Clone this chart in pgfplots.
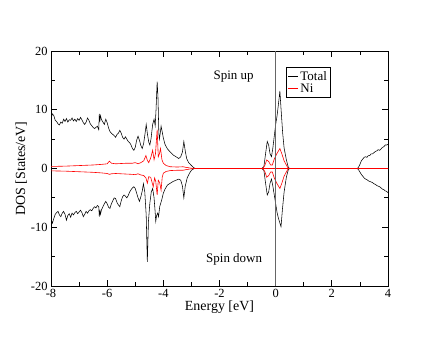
\documentclass[border=0pt]{standalone}
\usepackage{fontspec}
\setmainfont{Liberation Serif}
\usepackage{pgfplots}
\pgfplotsset{compat=1.18}

\pgfplotstableread{
x y
-8.00 8.6
-7.95 9.3
-7.90 9.0
-7.85 8.2
-7.80 8.0
-7.75 7.6
-7.70 7.4
-7.65 7.9
-7.60 7.7
-7.55 8.4
-7.50 8.0
-7.45 8.5
-7.40 7.9
-7.35 8.3
-7.30 8.2
-7.25 8.6
-7.20 8.1
-7.15 8.4
-7.10 8.0
-7.05 8.5
-7.00 8.2
-6.95 8.7
-6.90 8.3
-6.85 7.8
-6.80 7.5
-6.75 7.9
-6.70 8.6
-6.65 8.2
-6.60 7.6
-6.55 7.3
-6.50 7.0
-6.45 6.8
-6.40 7.0
-6.35 7.2
-6.30 6.6
-6.28 9.3
-6.26 8.0
-6.24 9.0
-6.20 8.3
-6.15 7.9
-6.10 7.5
-6.05 8.4
-6.00 7.8
-5.95 6.9
-5.90 6.3
-5.85 6.0
-5.80 5.8
-5.75 5.6
-5.70 5.3
-5.65 5.8
-5.60 6.0
-5.55 6.5
-5.50 6.0
-5.45 5.3
-5.40 5.0
-5.35 5.4
-5.30 5.0
-5.25 4.6
-5.20 4.4
-5.15 4.0
-5.10 3.4
-5.05 3.1
-5.00 3.6
-4.95 4.8
-4.90 5.5
-4.85 4.8
-4.80 3.9
-4.75 3.4
-4.70 4.3
-4.65 6.0
-4.61 7.5
-4.57 6.0
-4.52 4.5
-4.48 4.0
-4.44 5.0
-4.38 7.5
-4.33 8.4
-4.29 7.3
-4.26 10.0
-4.22 14.8
-4.19 12.0
-4.16 6.0
-4.14 5.0
-4.11 6.0
-4.08 7.2
-4.05 6.5
-4.00 5.2
-3.94 4.1
-3.85 3.3
-3.75 2.8
-3.65 2.3
-3.55 2.0
-3.45 1.7
-3.38 2.0
-3.32 2.8
-3.27 4.6
-3.22 3.0
-3.17 1.7
-3.10 1.0
-3.00 0.5
-2.93 0.2
-2.87 0.0
-0.50 0.0
-0.42 0.3
-0.36 2.5
-0.30 4.6
-0.25 4.0
-0.20 2.5
-0.15 2.0
-0.10 3.5
-0.05 5.5
0.00 7.5
0.05 9.0
0.10 11.0
0.15 13.2
0.20 9.5
0.25 6.0
0.30 3.5
0.38 1.5
0.45 0.2
0.50 0.0
2.90 0.0
2.95 0.2
3.00 0.7
3.05 1.3
3.10 1.6
3.15 1.9
3.20 2.0
3.25 1.9
3.30 2.2
3.35 2.2
3.40 2.5
3.45 2.5
3.50 2.7
3.55 2.9
3.60 3.0
3.65 3.2
3.70 3.1
3.75 3.3
3.80 3.6
3.85 3.7
3.90 4.0
3.95 4.0
4.00 4.1
}\totup

\pgfplotstableread{
x y
-8.00 -8.6
-7.95 -9.3
-7.90 -8.5
-7.85 -7.8
-7.80 -7.5
-7.75 -7.3
-7.70 -7.9
-7.65 -8.2
-7.60 -7.6
-7.55 -7.3
-7.50 -7.8
-7.45 -8.8
-7.40 -8.0
-7.35 -7.7
-7.30 -8.3
-7.25 -7.6
-7.20 -7.9
-7.15 -7.5
-7.10 -7.3
-7.05 -7.7
-7.00 -7.4
-6.95 -7.1
-6.90 -7.5
-6.85 -8.2
-6.80 -7.8
-6.75 -7.3
-6.70 -7.6
-6.65 -7.2
-6.60 -7.0
-6.55 -7.2
-6.50 -6.8
-6.45 -6.5
-6.40 -6.7
-6.35 -6.3
-6.30 -6.5
-6.28 -8.2
-6.26 -7.0
-6.24 -7.8
-6.20 -7.0
-6.15 -6.5
-6.10 -6.0
-6.05 -5.6
-6.00 -6.0
-5.95 -6.6
-5.90 -6.8
-5.85 -6.0
-5.80 -5.5
-5.75 -5.0
-5.70 -5.1
-5.65 -5.8
-5.60 -6.2
-5.55 -6.5
-5.50 -5.5
-5.45 -4.8
-5.40 -4.5
-5.35 -4.7
-5.30 -5.0
-5.25 -4.6
-5.20 -4.0
-5.15 -3.6
-5.10 -3.3
-5.05 -3.1
-5.00 -3.4
-4.95 -4.2
-4.90 -5.0
-4.85 -5.6
-4.80 -4.8
-4.75 -3.8
-4.71 -2.6
-4.66 -4.0
-4.61 -8.0
-4.57 -15.9
-4.53 -9.0
-4.48 -5.9
-4.43 -4.0
-4.38 -3.4
-4.33 -5.0
-4.29 -7.5
-4.27 -9.0
-4.24 -8.0
-4.20 -7.6
-4.17 -8.2
-4.13 -6.5
-4.06 -5.4
-4.00 -4.2
-3.94 -3.5
-3.85 -2.8
-3.75 -2.5
-3.65 -2.2
-3.55 -2.0
-3.45 -1.8
-3.38 -2.0
-3.32 -3.0
-3.27 -5.0
-3.22 -3.0
-3.15 -1.6
-3.07 -0.8
-3.00 -0.3
-2.90 0.0
-0.50 0.0
-0.42 -0.3
-0.36 -2.5
-0.30 -4.5
-0.25 -4.0
-0.20 -2.5
-0.15 -1.8
-0.10 -3.0
-0.05 -4.5
0.00 -6.0
0.05 -7.5
0.10 -8.5
0.19 -9.9
0.24 -7.0
0.30 -4.0
0.38 -1.5
0.45 -0.2
0.50 0.0
2.90 0.0
2.95 -0.2
3.00 -0.6
3.05 -1.0
3.10 -1.3
3.15 -1.6
3.20 -1.8
3.25 -1.9
3.30 -2.1
3.35 -2.2
3.40 -2.3
3.45 -2.4
3.50 -2.6
3.55 -2.7
3.60 -2.9
3.65 -3.0
3.70 -3.1
3.75 -3.3
3.80 -3.5
3.85 -3.6
3.90 -3.8
3.95 -3.9
4.00 -4.1
}\totdn

\pgfplotstableread{
x y
-8.00 0.35
-7.50 0.40
-7.00 0.50
-6.50 0.60
-6.20 0.70
-6.00 0.80
-5.92 1.25
-5.85 0.90
-5.70 0.80
-5.50 0.85
-5.30 0.90
-5.10 0.90
-5.00 1.00
-4.90 0.80
-4.80 1.00
-4.70 1.30
-4.62 2.20
-4.57 1.40
-4.52 1.00
-4.45 1.80
-4.38 3.10
-4.33 1.50
-4.28 2.50
-4.22 6.60
-4.18 2.00
-4.14 2.50
-4.10 3.40
-4.05 1.50
-4.00 0.90
-3.90 0.50
-3.75 0.30
-3.50 0.25
-3.30 0.30
-3.20 0.20
-3.00 0.05
-2.90 0.00
-0.45 0.00
-0.38 0.60
-0.32 1.45
-0.25 1.20
-0.18 0.60
-0.12 0.60
-0.05 1.60
0.05 2.60
0.15 3.40
0.22 2.50
0.30 1.30
0.38 0.60
0.45 0.00
4.00 0.00
}\niup

\pgfplotstableread{
x y
-8.00 -0.40
-7.50 -0.45
-7.00 -0.55
-6.50 -0.65
-6.20 -0.75
-6.00 -0.85
-5.92 -1.00
-5.85 -0.90
-5.70 -0.85
-5.50 -0.90
-5.30 -0.95
-5.10 -1.00
-5.00 -1.05
-4.90 -0.90
-4.80 -1.10
-4.70 -1.20
-4.62 -1.60
-4.57 -2.50
-4.52 -1.40
-4.45 -1.50
-4.36 -3.10
-4.31 -1.60
-4.27 -2.20
-4.22 -4.50
-4.18 -2.00
-4.13 -2.40
-4.08 -3.70
-4.04 -1.50
-4.00 -0.80
-3.90 -0.50
-3.75 -0.35
-3.50 -0.30
-3.30 -0.30
-3.20 -0.20
-3.00 -0.05
-2.90 0.00
-0.45 0.00
-0.38 -0.60
-0.32 -1.50
-0.25 -1.20
-0.18 -0.60
-0.12 -0.60
-0.05 -1.60
0.05 -2.60
0.15 -3.40
0.22 -2.50
0.30 -1.30
0.38 -0.60
0.45 0.00
4.00 0.00
}\nidn

\begin{document}
\begin{tikzpicture}
\path[use as bounding box] (-51bp,-51bp) rectangle (385bp,286bp);
\begin{axis}[
    at={(0,0)}, anchor=south west,
    width=337bp, height=235bp,
    scale only axis,
    xmin=-8, xmax=4,
    ymin=-20, ymax=20,
    xtick={-8,-6,...,4},
    minor xtick={-7,-5,...,3},
    ytick={-20,-10,...,20},
    minor ytick={-15,-5,...,15},
    tick align=inside,
    major tick length=6bp,
    minor tick length=4bp,
    axis line style={line width=0.9bp},
    every tick/.style={black, line width=0.8bp},
    /pgf/number format/assume math mode=true,
    tick label style={font=\fontsize{12.5}{13}\selectfont},
    xlabel={Energy [eV]},
    ylabel={DOS [States/eV]},
    label style={font=\fontsize{14}{15}\selectfont},
    xlabel style={yshift=4bp},
    ylabel style={yshift=-3bp},
    legend style={at={(axis cs:0.37,17.2)}, anchor=north west,
        draw=black, line width=0.6bp, fill=white,
        font=\fontsize{13}{13}\selectfont,
        inner sep=1.5bp, row sep=-2bp},
    legend cell align=left,
    legend image code/.code={\draw[#1, line width=0.6bp] (3bp,0bp) -- (13bp,0bp);},
]
\addplot[black, line width=0.55bp] table {\totup};
\addlegendentry{Total}
\addplot[red, line width=0.6bp] table {\niup};
\addlegendentry{Ni}
\addplot[black, line width=0.55bp, forget plot] table {\totdn};
\addplot[red, line width=0.6bp, forget plot] table {\nidn};
\addplot[red, line width=0.7bp, forget plot] coordinates {(-2.9,0) (4,0)};
\addplot[black!60, line width=1.6bp, forget plot] coordinates {(0,-20) (0,20)};
\node[font=\fontsize{13}{13}\selectfont] at (axis cs:-1.5,15.6) {Spin up};
\node[font=\fontsize{13}{13}\selectfont] at (axis cs:-1.48,-15.4) {Spin down};
\end{axis}
\end{tikzpicture}
\end{document}
